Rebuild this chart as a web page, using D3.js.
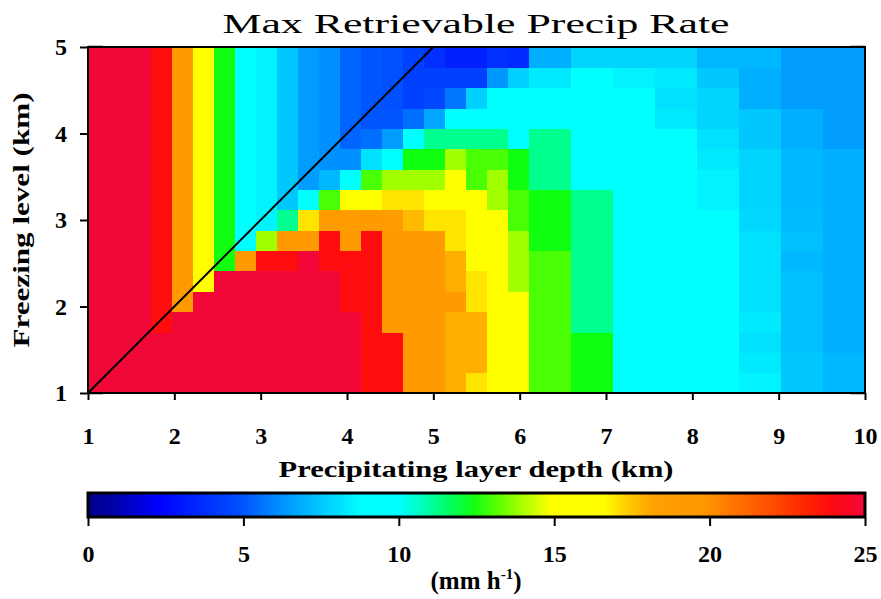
<!DOCTYPE html>
<html>
<head>
<meta charset="utf-8">
<script src="https://cdn.jsdelivr.net/npm/d3@7"></script>
<style>
  html, body { margin: 0; padding: 0; background: #fff; }
  svg text { font-family: "Liberation Serif", "DejaVu Serif", serif; fill: #000; }
</style>
</head>
<body>
<svg id="chart" width="881" height="599"></svg>
<script>
// ---------------- DATA ----------------
const depths = [1, 1.25, 1.5, 1.75, 2, 2.25, 2.5, 2.75, 3, 3.25, 3.5, 3.75, 4, 4.25, 4.5, 4.75, 5, 5.25, 5.5, 5.75, 6, 6.25, 6.5, 6.75, 7, 7.25, 7.5, 7.75, 8, 8.25, 8.5, 8.75, 9, 9.25, 9.5, 9.75, 10];
const freezingLevels = [1, 1.25, 1.5, 1.75, 2, 2.25, 2.5, 2.75, 3, 3.25, 3.5, 3.75, 4, 4.25, 4.5, 4.75, 5];

// max retrievable rate (mm/h); one row per freezing level (bottom to top), one value per depth
const rate0  = [25,25,25,25,25,25,25,25,25,25,25,25,25,23.8,23.8,19.5,19.5,17.9,17.0,16,16,13,13,12.4,12.4,9.5,9.5,9.5,9.5,9.5,9.5,8.5,8.5,7.5,7.5,7.1,7.1];
const rate1  = [25,25,25,25,25,25,25,25,25,25,25,25,25,23.8,23.8,19.5,19.5,17.9,17.9,16,16,13,13,12.4,12.4,9.5,9.5,9.5,9.5,9.5,9.5,8.3,8.3,7.5,7.5,7.1,7.1];
const rate2  = [25,25,25,25,25,25,25,25,25,25,25,25,25,23.8,23.8,19.5,19.5,17.9,17.9,16,16,13,13,12.4,12.4,9.5,9.5,9.5,9.5,9.5,9.5,8.1,8.1,7.3,7.3,6.9,6.9];
const rate3  = [25,25,25,23.8,25,25,25,25,25,25,25,25,25,23.8,19.5,19.5,19.5,17.9,17.9,16,16,13,13,11.2,11.2,9.5,9.5,9.5,9.5,9.5,9.5,8.3,8.3,7.3,7.3,6.9,6.9];
const rate4  = [25,25,25,23.8,19.5,25,25,25,25,25,25,25,23.8,23.8,19.5,19.5,19.5,19.5,17.0,16,16,13,13,11.2,11.2,9.5,9.5,9.5,9.5,9.5,9.5,8.1,8.1,7.3,7.3,6.9,6.9];
const rate5  = [25,25,25,23.8,19.5,16,25,25,25,25,25,25,23.8,23.8,19.5,19.5,19.5,17.9,17.0,16,13.9,13,13,11.2,11.2,9.5,9.5,9.5,9.5,9.5,9.5,8.1,8.1,7.3,7.3,6.9,6.9];
const rate6  = [25,25,25,23.8,19.5,16,12.4,19.5,23.8,23.8,25,23.8,23.8,23.8,19.5,19.5,19.5,17.9,16,16,13.9,13,13,11.2,11.2,9.5,9.5,9.5,9.5,9.5,9.5,8.1,8.1,7.1,7.1,6.9,6.9];
const rate7  = [25,25,25,23.8,19.5,16,12.4,9.5,13.9,19.5,19.5,23.8,19.5,23.8,19.5,19.5,19.5,17.0,16,16,13.9,12.4,12.4,11.2,11.2,9.5,9.5,9.5,9.5,9.5,9.5,8.1,8.1,7.3,7.3,6.9,6.9];
const rate8  = [25,25,25,23.8,19.5,16,12.4,9.5,8.5,11.2,17.0,18.8,18.8,19.5,18.8,17.7,17.0,17.0,16,16,13.0,12.4,12.4,11.2,11.2,9.5,9.5,9.5,9.5,9.5,9.5,7.9,7.9,7.2,7.2,6.9,6.9];
const rate9  = [25,25,25,23.8,19.5,16,12.4,9.5,8.5,7.5,9.5,13.0,16,16,17.0,17.0,16,16,16,13.9,13.0,12.4,12.4,11.2,11.2,9.5,9.5,9.5,9.5,8.5,8.5,7.8,7.8,7.1,7.1,6.9,6.9];
const rate10 = [25,25,25,23.8,19.5,16,12.4,9.5,8.5,7.5,6.5,7.1,9.5,13.0,13.9,13.9,13.9,16,13.0,13.9,12.4,11.2,11.2,9.5,9.5,9.5,9.5,9.5,9.5,8.5,8.5,7.8,7.8,7.1,7.1,6.9,6.9];
const rate11 = [25,25,25,23.8,19.5,16,12.4,9.5,8.5,7.5,6.5,6.2,6.2,8.1,9.5,12.4,12.4,13.9,13.0,13.0,12.4,11.2,11.2,9.5,9.5,9.5,9.5,9.5,9.5,8.3,8.3,7.8,7.8,7.1,7.1,6.9,6.9];
const rate12 = [25,25,25,23.8,19.5,16,12.4,9.5,8.5,7.5,6.5,6.2,5.3,5.5,6.5,9.5,11.2,11.2,11.2,11.2,9.5,11.2,11.2,9.5,9.5,9.5,9.5,9.5,9.5,8.1,8.1,7.5,7.5,6.9,6.9,6.5,6.5];
const rate13 = [25,25,25,23.8,19.5,16,12.4,9.5,8.5,7.5,6.5,6.2,5.3,5.0,5.0,5.5,6.7,9.5,9.5,9.5,9.5,9.5,9.5,9.5,9.5,9.5,9.5,8.3,8.3,7.8,7.8,7.5,7.5,6.9,6.9,6.5,6.5];
const rate14 = [25,25,25,23.8,19.5,16,12.4,9.5,8.5,7.5,6.5,6.2,5.3,5.0,4.9,4.4,4.6,5.7,7.7,9.5,9.5,9.5,9.5,9.5,9.5,9.5,9.5,8.1,8.1,7.8,7.8,6.9,6.9,6.5,6.5,6.5,6.5];
const rate15 = [25,25,25,23.8,19.5,16,12.4,9.5,8.5,7.5,6.5,6.2,5.3,5.0,4.9,4.4,4.4,4.4,4.4,6.35,7.7,8.3,8.3,9.5,9.5,8.5,8.5,8.3,8.3,7.5,7.5,6.9,6.9,6.5,6.5,6.5,6.5];
const rate16 = [25,25,25,23.8,19.5,16,12.4,9.5,8.5,7.5,6.5,6.2,5.3,5.0,4.9,4.4,3.8,3.3,3.3,3.8,3.6,6.9,6.9,7.8,7.8,7.8,7.8,7.8,7.8,7.1,7.1,7.1,7.1,6.5,6.5,6.5,6.5];
const rateRows = [rate0, rate1, rate2, rate3, rate4, rate5, rate6, rate7, rate8, rate9, rate10, rate11, rate12, rate13, rate14, rate15, rate16];

const xTickValues = [1, 2, 3, 4, 5, 6, 7, 8, 9, 10];
const yTickValues = [1, 2, 3, 4, 5];
const colorTickValues = [0, 5, 10, 15, 20, 25];
const diagonal = [[1, 1], [5, 5]];

// colour table (value stops -> colour)
const cmapStops = [0, 0.8, 2.3, 3.3, 4.9, 6.2, 7.1, 8.1, 8.75, 10.0, 10.7, 11.5, 12.4, 13.4, 14.2, 14.9, 16.6, 17.4, 18.2, 19.8, 20.9, 21.9, 23.0, 23.9, 25];
const cmapColors = ["#000088","#0000a8","#0000ff","#0020ff","#0050ff","#0090ff","#00b8ff","#00e0ff","#00ffff","#00ffff","#00ffc0","#00ff70","#10ff10","#70ff00","#c0ff00","#ffff00","#ffff00","#ffc800","#ffa000","#ff9800","#ff7000","#ff5000","#ff2800","#ff0a10","#f20838"];

// ---------------- CHART ----------------
const svg = d3.select("#chart");
const plot = { left: 88, right: 865, top: 47, bottom: 393 };
const cbar = { top: 493, bottom: 517 };

const color = d3.scaleLinear().domain(cmapStops).range(cmapColors).interpolate(d3.interpolateRgb).clamp(true);

const x = d3.scaleLinear().domain([1, 10]).range([plot.left, plot.right]);
const y = d3.scaleLinear().domain([1, 5]).range([plot.bottom, plot.top]);
const xBand = d3.scaleBand().domain(depths).range([plot.left, plot.right]).padding(0);
const yBand = d3.scaleBand().domain(freezingLevels).range([plot.bottom, plot.top]).padding(0);

// inner ticks (mostly hidden under the image, as in the original)
const gTicks = svg.append("g");
yTickValues.forEach(v => {
  gTicks.append("line").attr("x1", plot.left).attr("x2", plot.left + 15)
    .attr("y1", y(v)).attr("y2", y(v)).attr("stroke", "#000").attr("stroke-width", 2.5);
  gTicks.append("line").attr("x1", plot.right - 15).attr("x2", plot.right)
    .attr("y1", y(v)).attr("y2", y(v)).attr("stroke", "#000").attr("stroke-width", 2.5);
});

// cells
const cells = [];
freezingLevels.forEach((f, j) => depths.forEach((d, i) => cells.push({ d, f, v: rateRows[j][i] })));
svg.append("g").attr("shape-rendering", "crispEdges")
  .selectAll("rect").data(cells).join("rect")
  .attr("x", c => xBand(c.d))
  .attr("y", c => yBand(c.f))
  .attr("width", xBand.bandwidth() + 0.6)
  .attr("height", yBand.bandwidth() + 0.6)
  .attr("fill", c => color(c.v));

// diagonal line
svg.append("path")
  .attr("d", d3.line().x(p => x(p[0])).y(p => y(p[1]))(diagonal))
  .attr("stroke", "#000").attr("stroke-width", 2).attr("fill", "none");

// frame
svg.append("rect").attr("x", plot.left).attr("y", plot.top)
  .attr("width", plot.right - plot.left).attr("height", plot.bottom - plot.top)
  .attr("fill", "none").attr("stroke", "#000").attr("stroke-width", 2);

// x axis
const xAxis = d3.axisBottom(x).tickValues(xTickValues).tickSize(7).tickPadding(27).tickFormat(d3.format("d"));
const gx = svg.append("g").attr("transform", `translate(0,${plot.bottom})`).call(xAxis);
gx.select(".domain").remove();
gx.selectAll(".tick line").attr("stroke-width", 2);
gx.selectAll(".tick text").attr("font-size", 24).attr("font-weight", "bold")
  .attr("font-family", "Liberation Serif, serif");

// y axis
const yAxis = d3.axisLeft(y).tickValues(yTickValues).tickSize(8).tickPadding(13).tickFormat(d3.format("d"));
const gy = svg.append("g").attr("transform", `translate(${plot.left},0)`).call(yAxis);
gy.select(".domain").remove();
gy.selectAll(".tick line").attr("stroke-width", 2);
gy.selectAll(".tick text").attr("font-size", 24).attr("font-weight", "bold")
  .attr("font-family", "Liberation Serif, serif");

// title and axis titles
svg.append("text").attr("x", 476).attr("y", 33).attr("text-anchor", "middle")
  .attr("font-size", 28).attr("textLength", 507).attr("lengthAdjust", "spacingAndGlyphs")
  .text("Max Retrievable Precip Rate");
svg.append("text").attr("x", 476).attr("y", 477).attr("text-anchor", "middle")
  .attr("font-size", 24).attr("font-weight", "bold").attr("textLength", 395).attr("lengthAdjust", "spacingAndGlyphs")
  .text("Precipitating layer depth (km)");
svg.append("text").attr("transform", "translate(29,220) rotate(-90)").attr("text-anchor", "middle")
  .attr("font-size", 24).attr("font-weight", "bold").attr("textLength", 255).attr("lengthAdjust", "spacingAndGlyphs")
  .text("Freezing level (km)");

// colour bar
const xc = d3.scaleLinear().domain([0, 25]).range([plot.left, plot.right]);
const defs = svg.append("defs");
const grad = defs.append("linearGradient").attr("id", "cbgrad").attr("x1", "0%").attr("x2", "100%");
cmapStops.forEach((v, k) => grad.append("stop").attr("offset", (v / 25 * 100) + "%").attr("stop-color", cmapColors[k]));
svg.append("rect").attr("x", plot.left).attr("y", cbar.top)
  .attr("width", plot.right - plot.left).attr("height", cbar.bottom - cbar.top)
  .attr("fill", "url(#cbgrad)").attr("stroke", "#000").attr("stroke-width", 3);
const cAxis = d3.axisBottom(xc).tickValues(colorTickValues).tickSize(8).tickPadding(19).tickFormat(d3.format("d"));
const gc = svg.append("g").attr("transform", `translate(0,${cbar.bottom + 1})`).call(cAxis);
gc.select(".domain").remove();
gc.selectAll(".tick line").attr("stroke-width", 2);
gc.selectAll(".tick text").attr("font-size", 24).attr("font-weight", "bold")
  .attr("font-family", "Liberation Serif, serif");

const unit = svg.append("text").attr("x", 476).attr("y", 589).attr("text-anchor", "middle")
  .attr("font-size", 25).attr("font-weight", "bold");
unit.append("tspan").text("(mm h");
unit.append("tspan").attr("font-size", 15).attr("dy", -10).text("-1");
unit.append("tspan").attr("dy", 10).text(")");
</script>
</body>
</html>
